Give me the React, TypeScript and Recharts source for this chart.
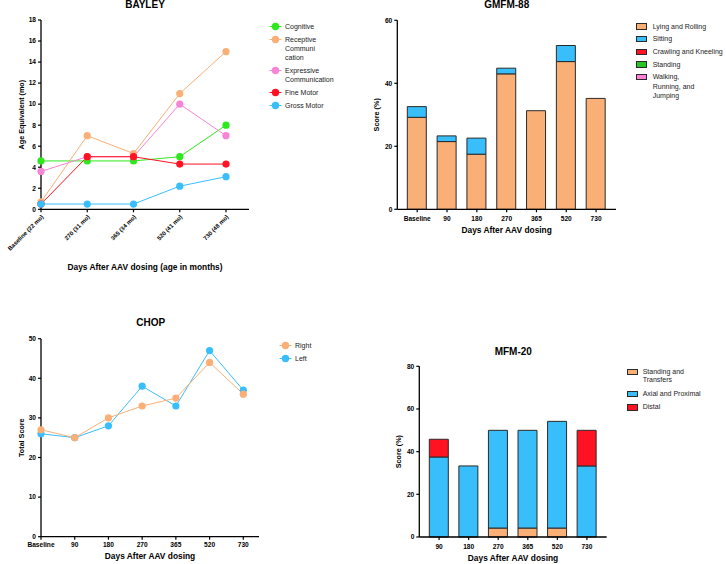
import { LineChart, Line, BarChart, Bar, XAxis, YAxis } from "recharts";

// BAYLEY
const bayleyVisits = ["Baseline (22 mo)", "270 (31 mo)", "365 (34 mo)", "520 (41 mo)", "730 (48 mo)"];
const cognitive = [4.6, 4.6, 4.6, 5, 8];
const receptive = [0.7, 7, 5.3, 11, 15];
const expressive = [3.6, 5, 5, 10, 7];
const fineMotor = [0.5, 5, 5, 4.3, 4.3];
const grossMotor = [0.5, 0.5, 0.5, 2.2, 3.1];
const bayleyTicks = [0, 2, 4, 6, 8, 10, 12, 14, 16, 18];

// GMFM-88
const gmfmVisits = ["Baseline", "90", "180", "270", "365", "520", "730"];
const lyingRolling = [29.2, 21.5, 17.5, 43.0, 31.3, 46.9, 35.2];
const sitting = [3.4, 1.8, 5.1, 1.8, 0, 5.1, 0];
const crawlingKneeling = [0, 0, 0, 0, 0, 0, 0];
const standing = [0, 0, 0, 0, 0, 0, 0];
const walkingRunning = [0, 0, 0, 0, 0, 0, 0];
const gmfmTicks = [0, 20, 40, 60];

// CHOP
const chopVisits = ["Baseline", "90", "180", "270", "365", "520", "730"];
const chopRight = [27, 25, 30, 33, 35, 44, 36];
const chopLeft = [26, 25, 28, 38, 33, 47, 37];
const chopTicks = [0, 10, 20, 30, 40, 50];

// MFM-20
const mfmVisits = ["90", "180", "270", "365", "520", "730"];
const standingTransfers = [0, 0, 4.2, 4.2, 4.2, 0];
const axialProximal = [37.5, 33.3, 45.8, 45.8, 50, 33.3];
const distal = [8.3, 0, 0, 0, 0, 16.7];
const mfmTicks = [0, 20, 40, 60, 80];

const FONT = "'Liberation Sans', Arial, Helvetica, sans-serif";
const ORANGE = "#F9AF76";
const BLUE = "#38BFFB";
const RED = "#FF1222";
const GREEN = "#2EE81E";
const PINK = "#F884D6";
const EDGE = "#2a2a2a";

const bayleyData = bayleyVisits.map((visit, i) => ({
  visit,
  cognitive: cognitive[i],
  receptive: receptive[i],
  expressive: expressive[i],
  fine: fineMotor[i],
  gross: grossMotor[i],
}));

const gmfmData = gmfmVisits.map((visit, i) => ({
  visit,
  lying: lyingRolling[i],
  sitting: sitting[i],
  crawling: crawlingKneeling[i],
  standing: standing[i],
  walking: walkingRunning[i],
}));

const chopData = chopVisits.map((visit, i) => ({ visit, right: chopRight[i], left: chopLeft[i] }));

const mfmData = mfmVisits.map((visit, i) => ({
  visit,
  standing: standingTransfers[i],
  axial: axialProximal[i],
  distal: distal[i],
}));

const tickStyle = { fontSize: 6.6, fontWeight: 700, fill: "#000", fontFamily: FONT };
const axisLine = { stroke: "#000", strokeWidth: 1.3 };
const tickLine = { stroke: "#000", strokeWidth: 1.2 };

function Title({ text, x, y }: { text: string; x: number; y: number }) {
  return (
    <div
      style={{
        position: "absolute",
        left: x - 60,
        top: y - 6,
        width: 120,
        textAlign: "center",
        fontFamily: FONT,
        fontWeight: 700,
        fontSize: 10,
        lineHeight: "12px",
      }}
    >
      {text}
    </div>
  );
}

type LegendItem = { lines: string[]; color: string };

function Legend2({
  items,
  left,
  top,
  lineHeight,
  gap,
  marker,
  textX,
}: {
  items: LegendItem[];
  left: number;
  top: number;
  lineHeight: number;
  gap: number;
  marker: "dot" | "square";
  textX: number;
}) {
  return (
    <div style={{ position: "absolute", left, top, fontFamily: FONT, fontSize: 7, color: "#222" }}>
      {items.map((it, i) => (
        <div key={i} style={{ position: "relative", marginBottom: gap, lineHeight: `${lineHeight}px` }}>
          {marker === "dot" ? (
            <svg width={13} height={9} style={{ position: "absolute", left: 0, top: (lineHeight - 9) / 2 }}>
              <line x1={0.5} y1={4.5} x2={12.5} y2={4.5} stroke={it.color} strokeWidth={1} />
              <circle cx={6.5} cy={4.5} r={3.7} fill={it.color} />
            </svg>
          ) : (
            <div
              style={{
                position: "absolute",
                left: 0,
                top: (lineHeight - 6) / 2,
                width: 9,
                height: 4.5,
                background: it.color,
                border: `1px solid ${EDGE}`,
              }}
            />
          )}
          <div style={{ marginLeft: textX }}>
            {it.lines.map((l, j) => (
              <div key={j}>{l}</div>
            ))}
          </div>
        </div>
      ))}
    </div>
  );
}

const dot = (color: string) => ({ r: 3.6, fill: color, stroke: color, strokeWidth: 0 });

export default function App() {
  return (
    <div style={{ position: "absolute", left: 0, top: 0, width: 726, height: 564, background: "#fff", overflow: "hidden" }}>
      {/* BAYLEY */}
      <div style={{ position: "absolute", left: 0, top: 0 }}>
        <LineChart width={370} height={280} data={bayleyData} margin={{ top: 20, right: 121, bottom: 8.7, left: 0 }}>
          <XAxis
            dataKey="visit"
            interval={0}
            padding={{ left: 0, right: 23 }}
            height={62}
            tick={{ ...tickStyle, fontSize: 6 }}
            angle={-45}
            textAnchor="end"
            tickSize={3}
            axisLine={axisLine}
            tickLine={tickLine}
            label={{ value: "Days After AAV dosing (age in months)", position: "insideBottom", offset: 1, fontSize: 8.4, fontWeight: 700, fill: "#000", fontFamily: FONT }}
          />
          <YAxis
            width={41}
            domain={[0, 18]}
            ticks={bayleyTicks}
            interval={0}
            tick={tickStyle}
            tickSize={3}
            axisLine={axisLine}
            tickLine={tickLine}
            label={{ value: "Age Equivalent (mo)", angle: -90, position: "insideLeft", offset: 21, style: { textAnchor: "middle" }, fontSize: 7.2, fontWeight: 700, fill: "#000", fontFamily: FONT }}
          />
          <Line dataKey="cognitive" stroke={GREEN} strokeWidth={1} dot={dot(GREEN)} isAnimationActive={false} />
          <Line dataKey="receptive" stroke={ORANGE} strokeWidth={1} dot={dot(ORANGE)} isAnimationActive={false} />
          <Line dataKey="expressive" stroke={PINK} strokeWidth={1} dot={dot(PINK)} isAnimationActive={false} />
          <Line dataKey="fine" stroke={RED} strokeWidth={1} dot={dot(RED)} isAnimationActive={false} />
          <Line dataKey="gross" stroke={BLUE} strokeWidth={1} dot={dot(BLUE)} isAnimationActive={false} />
        </LineChart>
        <Title text="BAYLEY" x={145} y={5.3} />
        <Legend2
          left={268.5}
          top={21.5}
          lineHeight={9}
          gap={4}
          marker="dot"
          textX={16.5}
          items={[
            { lines: ["Cognitive"], color: GREEN },
            { lines: ["Receptive", "Communi", "cation"], color: ORANGE },
            { lines: ["Expressive", "Communication"], color: PINK },
            { lines: ["Fine Motor"], color: RED },
            { lines: ["Gross Motor"], color: BLUE },
          ]}
        />
      </div>

      {/* GMFM-88 */}
      <div style={{ position: "absolute", left: 370, top: 0 }}>
        <BarChart width={356} height={280} data={gmfmData} margin={{ top: 20.3, right: 110, bottom: 40.7, left: 0 }}>
          <XAxis
            dataKey="visit"
            interval={0}
            padding={{ left: 5, right: 5 }}
            height={30}
            tick={tickStyle}
            tickSize={3}
            tickMargin={4}
            axisLine={axisLine}
            tickLine={tickLine}
            label={{ value: "Days After AAV dosing", position: "insideBottom", offset: 6, fontSize: 8.4, fontWeight: 700, fill: "#000", fontFamily: FONT }}
          />
          <YAxis
            width={27.3}
            domain={[0, 60]}
            ticks={gmfmTicks}
            interval={0}
            tick={tickStyle}
            tickSize={3}
            axisLine={axisLine}
            tickLine={tickLine}
            label={{ value: "Score (%)", angle: -90, position: "insideLeft", offset: 6, style: { textAnchor: "middle" }, fontSize: 7.2, fontWeight: 700, fill: "#000", fontFamily: FONT }}
          />
          <Bar dataKey="lying" stackId="g" barSize={19} fill={ORANGE} stroke={EDGE} strokeWidth={1} isAnimationActive={false} />
          <Bar dataKey="sitting" stackId="g" barSize={19} fill={BLUE} stroke={EDGE} strokeWidth={1} isAnimationActive={false} />
          <Bar dataKey="crawling" stackId="g" barSize={19} fill={RED} stroke={EDGE} strokeWidth={1} isAnimationActive={false} />
          <Bar dataKey="standing" stackId="g" barSize={19} fill="#27C427" stroke={EDGE} strokeWidth={1} isAnimationActive={false} />
          <Bar dataKey="walking" stackId="g" barSize={19} fill="#FF80D5" stroke={EDGE} strokeWidth={1} isAnimationActive={false} />
        </BarChart>
        <Title text="GMFM-88" x={136.7} y={5.3} />
        <Legend2
          left={266.3}
          top={21.6}
          lineHeight={9.3}
          gap={3.4}
          marker="square"
          textX={16.4}
          items={[
            { lines: ["Lying and Rolling"], color: ORANGE },
            { lines: ["Sitting"], color: BLUE },
            { lines: ["Crawling and Kneeling"], color: RED },
            { lines: ["Standing"], color: "#27C427" },
            { lines: ["Walking,", "Running, and", "Jumping"], color: "#FF80D5" },
          ]}
        />
      </div>

      {/* CHOP */}
      <div style={{ position: "absolute", left: 0, top: 280 }}>
        <LineChart width={370} height={284} data={chopData} margin={{ top: 58.7, right: 111, bottom: 5.3, left: 0 }}>
          <XAxis
            dataKey="visit"
            interval={0}
            padding={{ left: 0, right: 15.7 }}
            height={22}
            tick={tickStyle}
            tickSize={3}
            tickMargin={3}
            axisLine={axisLine}
            tickLine={tickLine}
            label={{ value: "Days After AAV dosing", position: "insideBottom", offset: 0, fontSize: 8.4, fontWeight: 700, fill: "#000", fontFamily: FONT }}
          />
          <YAxis
            width={41}
            domain={[0, 50]}
            ticks={chopTicks}
            interval={0}
            tick={tickStyle}
            tickSize={3}
            axisLine={axisLine}
            tickLine={tickLine}
            label={{ value: "Total Score", angle: -90, position: "insideLeft", offset: 21, style: { textAnchor: "middle" }, fontSize: 7.2, fontWeight: 700, fill: "#000", fontFamily: FONT }}
          />
          <Line dataKey="left" stroke={BLUE} strokeWidth={1} dot={dot(BLUE)} isAnimationActive={false} />
          <Line dataKey="right" stroke={ORANGE} strokeWidth={1} dot={dot(ORANGE)} isAnimationActive={false} />
        </LineChart>
        <Title text="CHOP" x={150.7} y={43.3} />
        <Legend2
          left={279.2}
          top={60.5}
          lineHeight={9}
          gap={4}
          marker="dot"
          textX={15.8}
          items={[
            { lines: ["Right"], color: ORANGE },
            { lines: ["Left"], color: BLUE },
          ]}
        />
      </div>

      {/* MFM-20 */}
      <div style={{ position: "absolute", left: 370, top: 280 }}>
        <BarChart width={356} height={284} data={mfmData} margin={{ top: 86.3, right: 119.3, bottom: 3, left: 0 }}>
          <XAxis
            dataKey="visit"
            interval={0}
            padding={{ left: 5, right: 5 }}
            height={24}
            tick={tickStyle}
            tickSize={3}
            tickMargin={4}
            axisLine={axisLine}
            tickLine={tickLine}
            label={{ value: "Days After AAV dosing", position: "insideBottom", offset: 0, fontSize: 8.4, fontWeight: 700, fill: "#000", fontFamily: FONT }}
          />
          <YAxis
            width={49.3}
            domain={[0, 80]}
            ticks={mfmTicks}
            interval={0}
            tick={tickStyle}
            tickSize={3}
            axisLine={axisLine}
            tickLine={tickLine}
            label={{ value: "Score (%)", angle: -90, position: "insideLeft", offset: 28.3, style: { textAnchor: "middle" }, fontSize: 7.2, fontWeight: 700, fill: "#000", fontFamily: FONT }}
          />
          <Bar dataKey="standing" stackId="m" barSize={19} fill={ORANGE} stroke={EDGE} strokeWidth={1} isAnimationActive={false} />
          <Bar dataKey="axial" stackId="m" barSize={19} fill={BLUE} stroke={EDGE} strokeWidth={1} isAnimationActive={false} />
          <Bar dataKey="distal" stackId="m" barSize={19} fill={RED} stroke={EDGE} strokeWidth={1} isAnimationActive={false} />
        </BarChart>
        <Title text="MFM-20" x={143.3} y={71.7} />
        <Legend2
          left={257}
          top={87.6}
          lineHeight={8.8}
          gap={4.4}
          marker="square"
          textX={15.7}
          items={[
            { lines: ["Standing and", "Transfers"], color: ORANGE },
            { lines: ["Axial and Proximal"], color: BLUE },
            { lines: ["Distal"], color: RED },
          ]}
        />
      </div>
    </div>
  );
}
